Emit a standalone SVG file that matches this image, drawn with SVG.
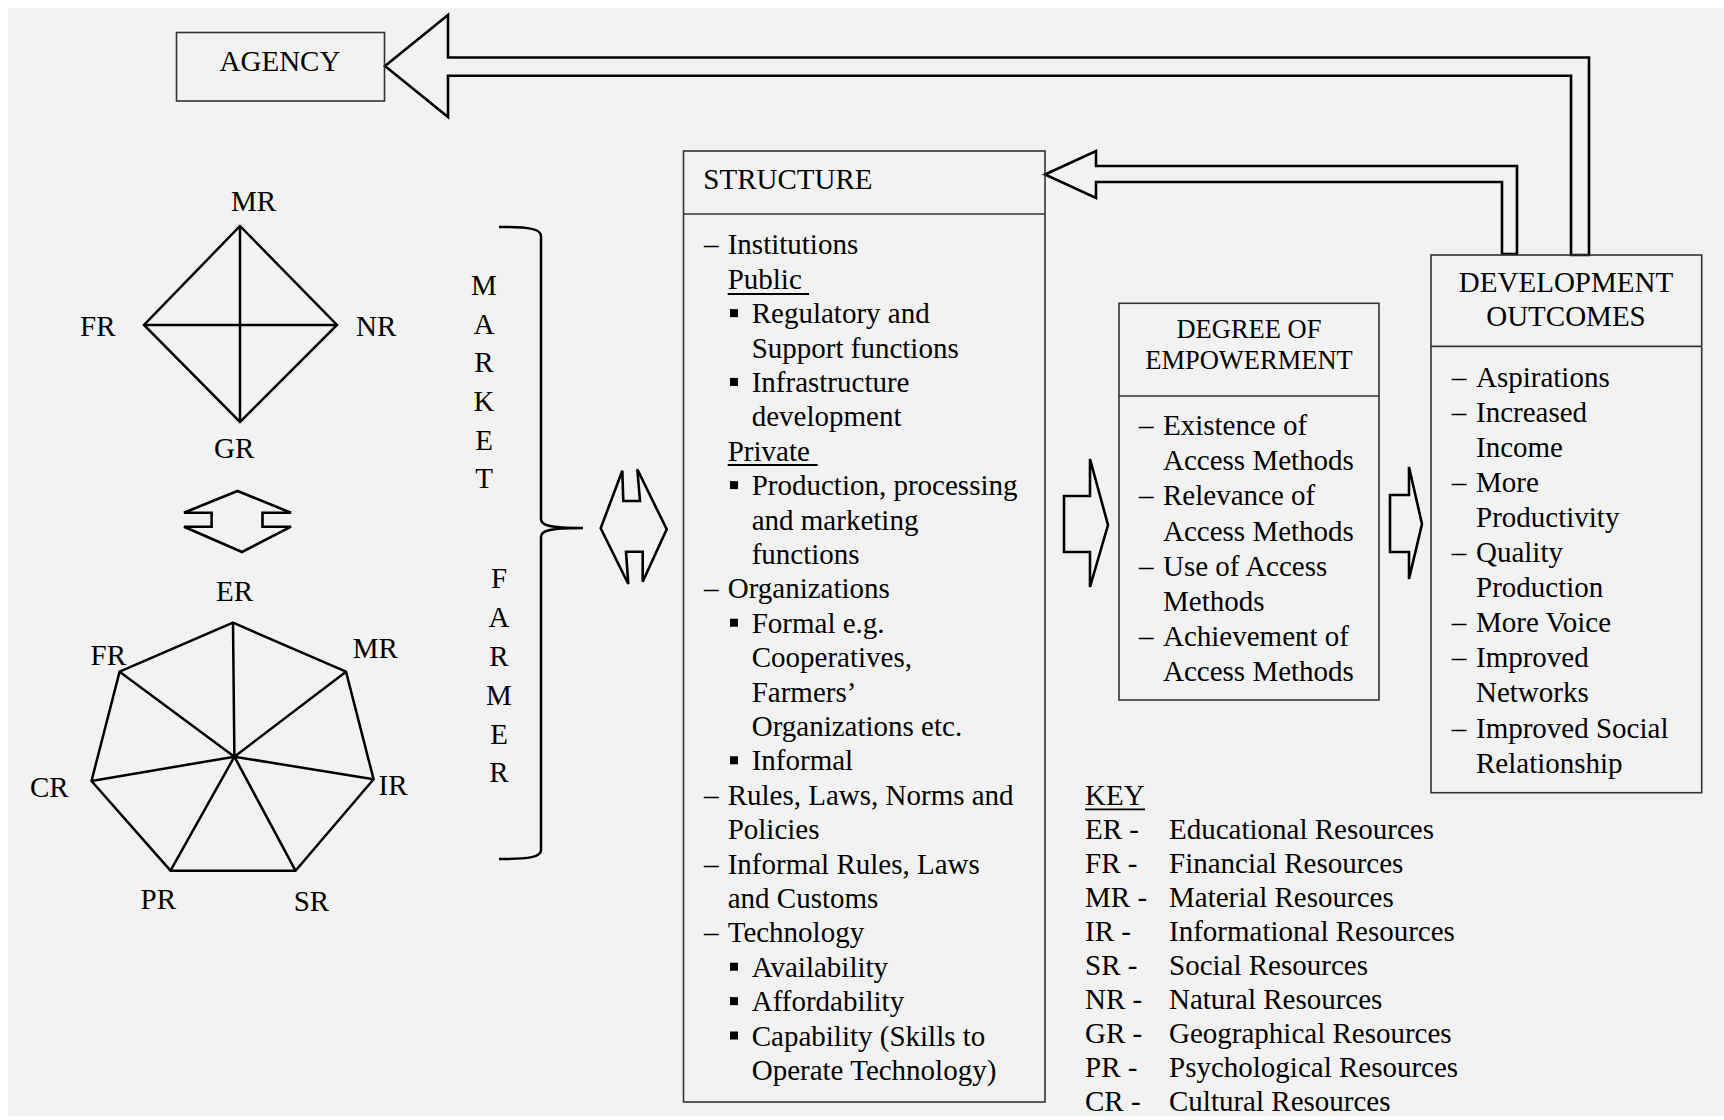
<svg xmlns="http://www.w3.org/2000/svg" width="1724" height="1120" viewBox="0 0 1724 1120">
<style>
text{font-family:"Liberation Serif","Times New Roman",serif;font-size:29px;fill:#000}
.hd{font-size:26.5px}
.box{fill:none;stroke:#333;stroke-width:1.6}
.arr{fill:none;stroke:#000;stroke-width:2.6;stroke-linejoin:miter}
.shp{fill:none;stroke:#000;stroke-width:2.5;stroke-linejoin:miter}
.ul{stroke:#000;stroke-width:1.8}
.mid{text-anchor:middle}
</style>
<defs>
<rect id="b" width="8" height="8" fill="#000"/>
</defs>
<rect x="0" y="0" width="1724" height="1120" fill="#fff"/>
<rect x="8" y="8" width="1716" height="1108" fill="#f2f2f2"/>

<g id="connectors">
<polygon class="arr" points="385,66 448,15 448,57.5 1589,57.5 1589,255 1571,255 1571,75.8 448,75.8 448,117"/>
<polygon class="arr" points="1045,174.5 1096,151 1096,166 1517,166 1517,254 1502,254 1502,182 1096,182 1096,198"/>
<polygon class="arr" points="1064,496 1090,496 1090,459 1108,525 1090,587 1090,552 1064,552"/>
<polygon class="arr" points="1390,495 1409,495 1409,467 1422,524 1409,579 1409,552 1390,552"/>
<polygon class="arr" points="600.7,528.3 622.3,470.7 623.3,501 640,501 637.3,469.3 666.7,529.3 642.7,581.7 642.7,551.7 626,551.7 628.3,584"/>
<polygon class="arr" points="237.5,491 291,512.7 262.5,512.7 262.5,526.7 291,526.7 242,552 184,526.7 211.6,526.7 211.6,512.7 184,512.7"/>
<path class="shp" d="M499 227 C530 227 541 229 541 236 L541 519 C541 525 548 528 583 528 C548 528 541 531 541 537 L541 850 C541 857 530 859 499 859"/>
</g>

<g id="agency">
<rect class="box" x="176.5" y="32.5" width="208" height="68.5"/>
<text class="mid" x="280" y="71">AGENCY</text>
</g>

<g id="diamond">
<polygon class="shp" points="240,226 337,325 240,422 144,325"/>
<line class="shp" x1="240" y1="226" x2="240" y2="422"/>
<line class="shp" x1="144" y1="325" x2="337" y2="325"/>
<text x="231" y="211">MR</text>
<text x="80" y="336">FR</text>
<text x="356" y="336">NR</text>
<text x="214" y="458">GR</text>
</g>

<g id="heptagon">
<polygon class="shp" points="233,622.7 346,671.7 373.6,779.3 295.5,870.7 170.5,870.7 91.5,781 119.6,671.7"/>
<path class="shp" d="M234.4 756.7 L233 622.7 M234.4 756.7 L346 671.7 M234.4 756.7 L373.6 779.3 M234.4 756.7 L295.5 870.7 M234.4 756.7 L170.5 870.7 M234.4 756.7 L91.5 781 M234.4 756.7 L119.6 671.7"/>
<text x="216" y="601">ER</text>
<text x="90.6" y="665">FR</text>
<text x="352.7" y="657.7">MR</text>
<text x="30" y="797">CR</text>
<text x="378.5" y="795">IR</text>
<text x="140.6" y="909">PR</text>
<text x="293.7" y="911">SR</text>
</g>

<g id="market-farmer">
<text class="mid" x="484" y="295">M</text>
<text class="mid" x="484" y="333.5">A</text>
<text class="mid" x="484" y="372">R</text>
<text class="mid" x="484" y="411">K</text>
<text class="mid" x="484" y="450">E</text>
<text class="mid" x="484" y="488">T</text>
<text class="mid" x="499" y="588">F</text>
<text class="mid" x="499" y="627">A</text>
<text class="mid" x="499" y="666">R</text>
<text class="mid" x="499" y="705">M</text>
<text class="mid" x="499" y="744">E</text>
<text class="mid" x="499" y="782">R</text>
</g>

<g id="structure">
<rect class="box" x="683.5" y="151" width="361.5" height="951"/>
<line class="box" x1="683.5" y1="214" x2="1045" y2="214"/>
<text x="703.3" y="189.3">STRUCTURE</text>
<g transform="translate(0,1.5)">
<text x="704" y="252.8">–</text><text x="727.7" y="252.8">Institutions</text>
<text x="727.7" y="287.2">Public</text><line class="ul" x1="727.7" y1="292.5" x2="809" y2="292.5"/>
<use href="#b" x="730" y="307.6"/><text x="751.7" y="321.6">Regulatory and</text>
<text x="751.7" y="356">Support functions</text>
<use href="#b" x="730" y="376.4"/><text x="751.7" y="390.4">Infrastructure</text>
<text x="751.7" y="424.8">development</text>
<text x="727.7" y="459.2">Private</text><line class="ul" x1="727.7" y1="463.5" x2="817.7" y2="463.5"/>
<use href="#b" x="730" y="479.6"/><text x="751.7" y="493.6">Production, processing</text>
<text x="751.7" y="528">and marketing</text>
<text x="751.7" y="562.4">functions</text>
<text x="704" y="596.8">–</text><text x="727.7" y="596.8">Organizations</text>
<use href="#b" x="730" y="617.2"/><text x="751.7" y="631.2">Formal e.g.</text>
<text x="751.7" y="665.6">Cooperatives,</text>
<text x="751.7" y="700">Farmers’</text>
<text x="751.7" y="734.4">Organizations etc.</text>
<use href="#b" x="730" y="754.8"/><text x="751.7" y="768.8">Informal</text>
<text x="704" y="803.2">–</text><text x="727.7" y="803.2">Rules, Laws, Norms and</text>
<text x="727.7" y="837.6">Policies</text>
<text x="704" y="872">–</text><text x="727.7" y="872">Informal Rules, Laws</text>
<text x="727.7" y="906.4">and Customs</text>
<text x="704" y="940.8">–</text><text x="727.7" y="940.8">Technology</text>
<use href="#b" x="730" y="961.2"/><text x="751.7" y="975.2">Availability</text>
<use href="#b" x="730" y="995.6"/><text x="751.7" y="1009.6">Affordability</text>
<use href="#b" x="730" y="1030"/><text x="751.7" y="1044">Capability (Skills to</text>
<text x="751.7" y="1078.4">Operate Technology)</text>
</g>
</g>

<g id="empowerment">
<rect class="box" x="1119" y="303.3" width="260" height="396.7"/>
<line class="box" x1="1119" y1="396" x2="1379" y2="396"/>
<text class="mid hd" x="1249" y="338.3">DEGREE OF</text>
<text class="mid hd" x="1249" y="369.3">EMPOWERMENT</text>
<text x="1139" y="435">–</text><text x="1163" y="435">Existence of</text>
<text x="1163" y="470.2">Access Methods</text>
<text x="1139" y="505.4">–</text><text x="1163" y="505.4">Relevance of</text>
<text x="1163" y="540.6">Access Methods</text>
<text x="1139" y="575.8">–</text><text x="1163" y="575.8">Use of Access</text>
<text x="1163" y="611">Methods</text>
<text x="1139" y="646.2">–</text><text x="1163" y="646.2">Achievement of</text>
<text x="1163" y="681.4">Access Methods</text>
</g>

<g id="outcomes">
<rect class="box" x="1431" y="255" width="270.7" height="537.7"/>
<line class="box" x1="1431" y1="346.4" x2="1701.7" y2="346.4"/>
<text class="mid" x="1566" y="292">DEVELOPMENT</text>
<text class="mid" x="1566" y="326">OUTCOMES</text>
<text x="1451.7" y="386.5">–</text><text x="1476" y="386.5">Aspirations</text>
<text x="1451.7" y="421.6">–</text><text x="1476" y="421.6">Increased</text>
<text x="1476" y="456.7">Income</text>
<text x="1451.7" y="491.8">–</text><text x="1476" y="491.8">More</text>
<text x="1476" y="526.9">Productivity</text>
<text x="1451.7" y="562">–</text><text x="1476" y="562">Quality</text>
<text x="1476" y="597.1">Production</text>
<text x="1451.7" y="632.2">–</text><text x="1476" y="632.2">More Voice</text>
<text x="1451.7" y="667.3">–</text><text x="1476" y="667.3">Improved</text>
<text x="1476" y="702.4">Networks</text>
<text x="1451.7" y="737.5">–</text><text x="1476" y="737.5">Improved Social</text>
<text x="1476" y="772.6">Relationship</text>
</g>

<g id="key">
<text x="1085" y="805">KEY</text><line class="ul" x1="1085" y1="809.3" x2="1145" y2="809.3"/>
<text x="1085" y="839">ER -</text><text x="1169" y="839">Educational Resources</text>
<text x="1085" y="873">FR -</text><text x="1169" y="873">Financial Resources</text>
<text x="1085" y="907">MR -</text><text x="1169" y="907">Material Resources</text>
<text x="1085" y="941">IR -</text><text x="1169" y="941">Informational Resources</text>
<text x="1085" y="975">SR -</text><text x="1169" y="975">Social Resources</text>
<text x="1085" y="1009">NR -</text><text x="1169" y="1009">Natural Resources</text>
<text x="1085" y="1043">GR -</text><text x="1169" y="1043">Geographical Resources</text>
<text x="1085" y="1077">PR -</text><text x="1169" y="1077">Psychological Resources</text>
<text x="1085" y="1111">CR -</text><text x="1169" y="1111">Cultural Resources</text>
</g>
</svg>
